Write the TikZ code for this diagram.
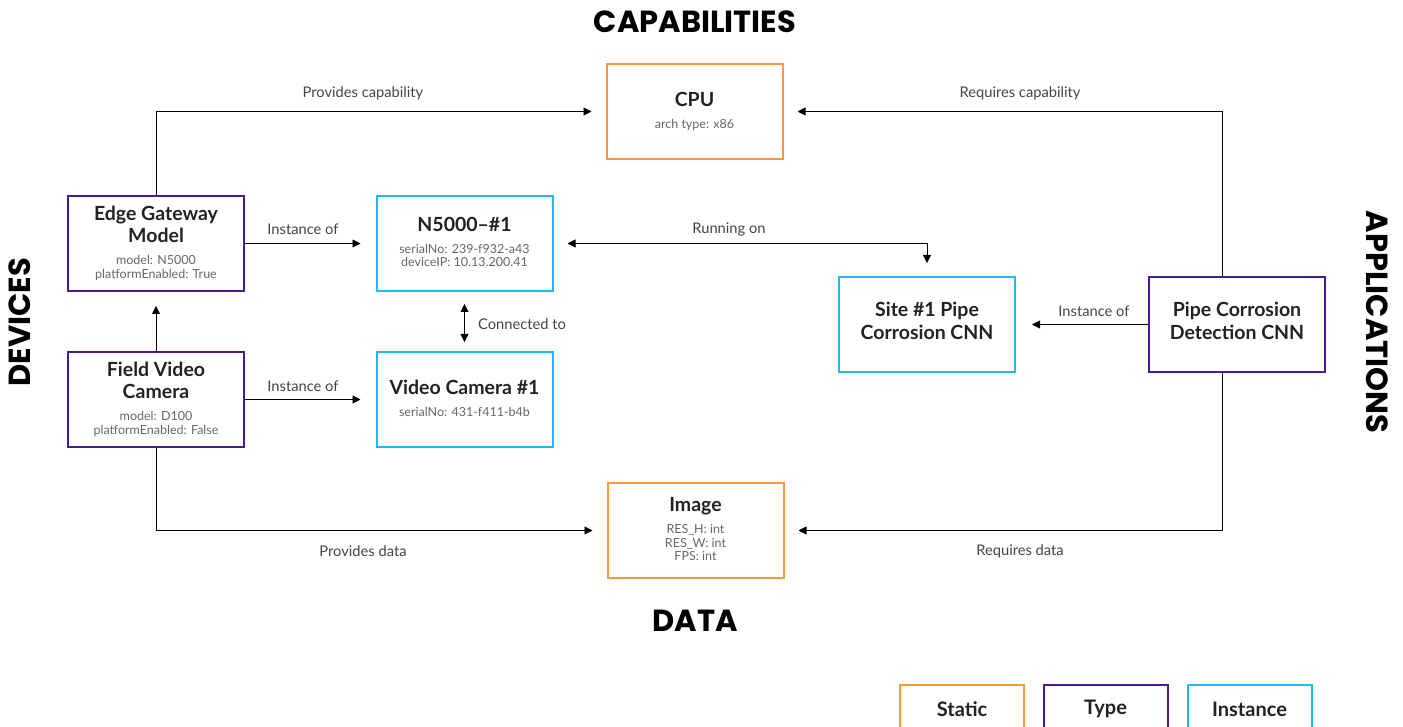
\documentclass[tikz,border=0pt]{standalone}
\usepackage{fontspec}
\setmainfont{Lato}
\newfontfamily\headfont{Poppins}
\usetikzlibrary{arrows.meta,calc}
\definecolor{cstatic}{HTML}{FF9933}
\definecolor{ctype}{HTML}{461B93}
\definecolor{cinst}{HTML}{1FBAF5}
\definecolor{ctitle}{HTML}{222222}
\definecolor{cattr}{HTML}{666666}
\definecolor{clabel}{HTML}{444444}
\newcommand\ttl[1]{{\fontsize{19.5}{0}\selectfont\bfseries\color{ctitle}\rule[-7pt]{0pt}{16pt}#1}}
\newcommand\att[1]{{\fontsize{12.5}{0}\selectfont\color{cattr}\rule[-3pt]{0pt}{9pt}#1}}
\tikzset{
  box/.style={draw, line width=2pt, minimum width=176pt, minimum height=95pt, align=center, inner sep=2pt, font=\fontsize{12.5}{0}\selectfont},
  statbox/.style={box, draw=cstatic},
  typebox/.style={box, draw=ctype},
  instbox/.style={box, draw=cinst},
  conn/.style={draw=black, line width=0.8pt, -{Triangle[length=8pt,width=8pt]}},
  lbl/.style={font=\fontsize{14.7}{16}\selectfont, text=clabel, inner sep=0pt},
  heading/.style={font=\headfont\fontsize{30.5}{32}\selectfont\bfseries, text=black, inner sep=0pt},
  legend/.style={draw, line width=2pt, minimum width=124pt, minimum height=48pt, font=\fontsize{20}{22}\selectfont\bfseries, text=ctitle}
}
\begin{document}
\begin{tikzpicture}[x=1pt,y=-1pt]
\path[use as bounding box] (0,0) rectangle (1403,727);
\clip (0,0) rectangle (1403,727);

% headings
\node[heading] (hcap) at (695,22) {CAPABILITIES};
\node[heading] (hdata) at (695,621) {DATA};
\node[heading, rotate=90] (hdev) at (20,322) {DEVICES};
\node[heading, rotate=-90] (happ) at (1377,322) {APPLICATIONS};

% boxes
\node[typebox] (edge) at (156,243.5) {\ttl{Edge Gateway}\\\ttl{Model}\\[5pt]\att{model: N5000}\\\att{platformEnabled: True}};
\node[typebox] (field) at (156,399.5) {\ttl{Field Video}\\\ttl{Camera}\\[5pt]\att{model: D100}\\\att{platformEnabled: False}};
\node[instbox] (n5000) at (464.5,243.5) {\ttl{N5000–\#1}\\[5pt]\att{serialNo: 239-f932-a43}\\\att{deviceIP: 10.13.200.41}};
\node[instbox] (vcam) at (464.5,399.5) {\ttl{Video Camera \#1}\\[5pt]\att{serialNo: 431-f411-b4b}};
\node[statbox] (cpu) at (694.5,111.5) {\ttl{CPU}\\[5pt]\att{arch type: x86}};
\node[statbox] (img) at (695.5,530.5) {\ttl{Image}\\[5pt]\att{RES\_H: int}\\\att{RES\_W: int}\\\att{FPS: int}};
\node[instbox] (site) at (927,324.5) {\ttl{Site \#1 Pipe}\\\ttl{Corrosion CNN}};
\node[typebox] (pipe) at (1237,324.5) {\ttl{Pipe Corrosion}\\\ttl{Detection CNN}};

% connectors
\coordinate (pipetop) at ($(pipe.north)+(-15,0)$);
\coordinate (pipebot) at ($(pipe.south)+(-15,0)$);
\draw[conn, shorten >=14pt] (edge.north) |- (cpu.west);
\draw[conn, shorten >=14pt] (pipetop) |- (cpu.east);
\draw[conn, shorten >=14pt] (field.south) |- (img.west);
\draw[conn, shorten >=14pt] (pipebot) |- (img.east);
\draw[conn, shorten >=15pt] (edge.east) -- (n5000.west);
\draw[conn, shorten >=15pt] (field.east) -- (vcam.west);
\draw[conn, shorten >=14pt] (field.north) -- (edge.south);
\draw[conn, {Triangle[length=8pt,width=8pt]}-{Triangle[length=8pt,width=8pt]}, shorten <=12pt, shorten >=9pt] (n5000.south) -- (vcam.north);
\draw[conn, {Triangle[length=8pt,width=8pt]}-{Triangle[length=8pt,width=8pt]}, shorten <=14pt, shorten >=13pt] (n5000.east) -| (site.north);
\draw[conn, shorten >=16pt] (pipe.west) -- (site.east);

% labels
\node[lbl] (lprovcap) at (363,93) {Provides capability};
\node[lbl] (lreqcap) at (1020,93) {Requires capability};
\node[lbl] (lprovdata) at (363,551) {Provides data};
\node[lbl] (lreqdata) at (1020,551) {Requires data};
\node[lbl] (linst1) at (303,229) {Instance of};
\node[lbl] (linst2) at (303,386) {Instance of};
\node[lbl, anchor=west] (lconn) at (478,324) {Connected to};
\node[lbl] (lrun) at (729,229) {Running on};
\node[lbl] (linst3) at (1094,311) {Instance of};

% legend
\node[legend, draw=cstatic] (lgstatic) at (962,709) {Static};
\node[legend, draw=ctype] (lgtype) at (1105.5,709) {Type};
\node[legend, draw=cinst] (lginst) at (1249.5,709) {Instance};
\end{tikzpicture}
\end{document}
